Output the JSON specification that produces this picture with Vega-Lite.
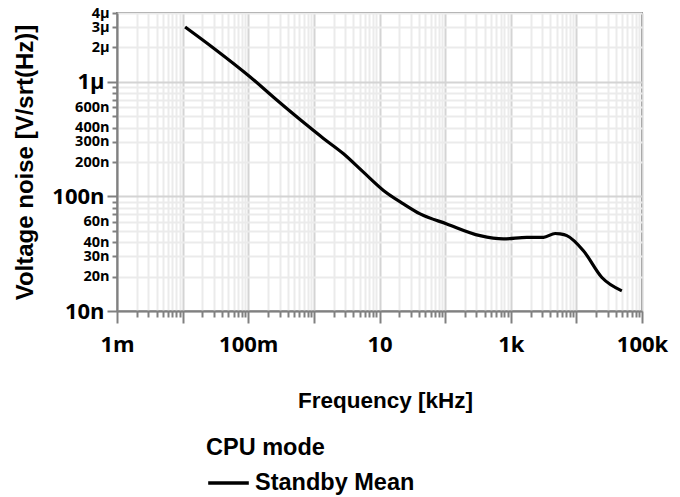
{
  "$schema": "https://vega.github.io/schema/vega-lite/v6.json",
  "width": 525,
  "height": 298,
  "autosize": {"type": "none"},
  "padding": {"left": 117, "top": 13, "right": 38, "bottom": 186},
  "background": "white",
  "config": {
    "view": {"stroke": "#808080", "strokeWidth": 2},
    "axis": {"domainColor": "#808080", "domainWidth": 2, "tickColor": "#808080", "tickWidth": 2, "labelColor": "black", "titleColor": "black"}
  },
  "data": {
    "values": [
      {"f": 0.0109, "v": 3.02e-6, "series": "Standby Mean"},
      {"f": 0.0294, "v": 1.98e-6, "series": "Standby Mean"},
      {"f": 0.106, "v": 1.11e-6, "series": "Standby Mean"},
      {"f": 0.272, "v": 6.95e-7, "series": "Standby Mean"},
      {"f": 0.78, "v": 4.2e-7, "series": "Standby Mean"},
      {"f": 1.4, "v": 3.21e-7, "series": "Standby Mean"},
      {"f": 2.8, "v": 2.37e-7, "series": "Standby Mean"},
      {"f": 5.69, "v": 1.63e-7, "series": "Standby Mean"},
      {"f": 11.5, "v": 1.13e-7, "series": "Standby Mean"},
      {"f": 23.1, "v": 8.63e-8, "series": "Standby Mean"},
      {"f": 41.6, "v": 7.05e-8, "series": "Standby Mean"},
      {"f": 106, "v": 5.76e-8, "series": "Standby Mean"},
      {"f": 341, "v": 4.55e-8, "series": "Standby Mean"},
      {"f": 774, "v": 4.26e-8, "series": "Standby Mean"},
      {"f": 1758, "v": 4.4e-8, "series": "Standby Mean"},
      {"f": 3155, "v": 4.4e-8, "series": "Standby Mean"},
      {"f": 4750, "v": 4.75e-8, "series": "Standby Mean"},
      {"f": 5660, "v": 4.71e-8, "series": "Standby Mean"},
      {"f": 7160, "v": 4.55e-8, "series": "Standby Mean"},
      {"f": 12800, "v": 3.36e-8, "series": "Standby Mean"},
      {"f": 24500, "v": 1.96e-8, "series": "Standby Mean"},
      {"f": 49300, "v": 1.5e-8, "series": "Standby Mean"}
    ]
  },
  "mark": {"type": "line", "strokeWidth": 3.2, "interpolate": "monotone", "clip": true},
  "encoding": {
    "x": {
      "field": "f", "type": "quantitative",
      "scale": {"type": "log", "domain": [0.001, 100000], "nice": false},
      "axis": {
        "title": "Frequency [kHz]",
        "titleFont": "Liberation Sans", "titleFontSize": 22.5, "titleFontWeight": "bold", "titlePadding": 34, "titleX": 268,
        "labelFont": "Open Sans", "labelFontSize": 22, "labelFontWeight": "bold",
        "labelPadding": 11, "labelOverlap": false, "labelFlush": false,
        "values": [0.001,0.002,0.003,0.004,0.005,0.006,0.007,0.008,0.009,0.01,0.02,0.03,0.04,0.05,0.06,0.07,0.08,0.09,0.1,0.2,0.3,0.4,0.5,0.6,0.7,0.8,0.9,1,2,3,4,5,6,7,8,9,10,20,30,40,50,60,70,80,90,100,200,300,400,500,600,700,800,900,1000,2000,3000,4000,5000,6000,7000,8000,9000,10000,20000,30000,40000,50000,60000,70000,80000,90000,100000],
        "labelExpr": "datum.value==0.001?'1m':datum.value==0.1?'100m':datum.value==10?'10':datum.value==1000?'1k':datum.value==100000?'100k':''",
        "tickSize": {"condition": {"test": "indexof([0.001,0.01,0.1,1,10,100,1000,10000,100000], datum.value) >= 0", "value": 12}, "value": 6},
        "grid": true,
        "gridColor": {"condition": {"test": "indexof([0.001,0.01,0.1,1,10,100,1000,10000,100000], datum.value) >= 0", "value": "#d4d4d4"}, "value": "#ebebeb"},
        "gridWidth": 2
      }
    },
    "y": {
      "field": "v", "type": "quantitative",
      "scale": {"type": "log", "domain": [1e-8, 4e-6], "nice": false},
      "axis": {
        "title": "Voltage noise [V/srt(Hz)]",
        "titleFont": "Liberation Sans", "titleFontSize": 24, "titleFontWeight": "bold", "titlePadding": 14,
        "labelFont": "Open Sans", "labelFontWeight": "bold",
        "labelFontSize": {"condition": {"test": "indexof([1e-8,1e-7,1e-6], datum.value) >= 0", "value": 22}, "value": 14.5},
        "labelPadding": 3, "labelOverlap": false, "labelFlush": false,
        "values": [1e-8,2e-8,3e-8,4e-8,5e-8,6e-8,7e-8,8e-8,9e-8,1e-7,2e-7,3e-7,4e-7,5e-7,6e-7,7e-7,8e-7,9e-7,1e-6,2e-6,3e-6,4e-6],
        "labelExpr": "indexof([5e-8,7e-8,8e-8,9e-8,5e-7,7e-7,8e-7,9e-7], datum.value) >= 0 ? '' : (datum.value >= 1e-6 ? round(datum.value*1e6) + 'μ' : round(datum.value*1e9) + 'n')",
        "tickSize": {"condition": {"test": "indexof([1e-8,1e-7,1e-6], datum.value) >= 0", "value": 10}, "value": 5},
        "grid": true,
        "gridColor": {"condition": {"test": "indexof([1e-8,1e-7,1e-6], datum.value) >= 0", "value": "#d4d4d4"}, "value": "#ebebeb"},
        "gridWidth": 2
      }
    },
    "color": {
      "field": "series", "type": "nominal",
      "scale": {"range": ["black"]},
      "legend": {
        "title": "CPU mode",
        "orient": "none", "legendX": 89, "legendY": 423,
        "titleFont": "Liberation Sans", "titleFontSize": 23.5, "titleFontWeight": "bold", "titlePadding": 1,
        "labelFont": "Liberation Sans", "labelFontSize": 23.5, "labelFontWeight": "bold", "labelColor": "black", "titleColor": "black",
        "labelOffset": 4,
        "symbolType": "stroke", "symbolStrokeWidth": 3.5, "symbolSize": 1650, "symbolStrokeColor": "black"
      }
    }
  }
}
